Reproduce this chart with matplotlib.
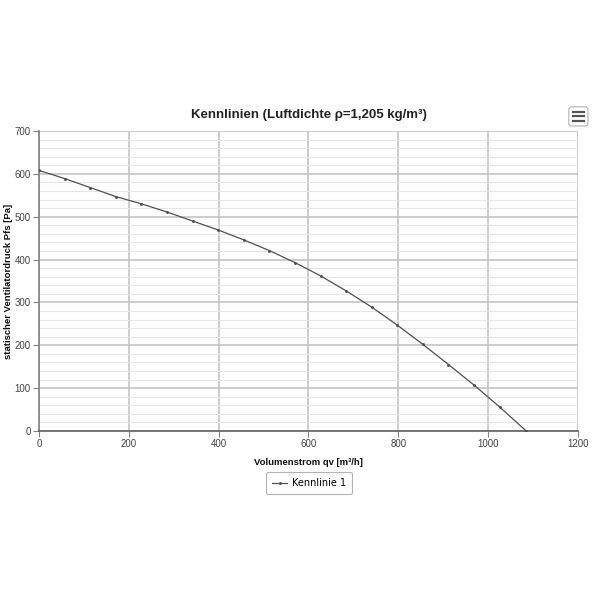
import numpy as np
import matplotlib.pyplot as plt
from matplotlib.patches import FancyBboxPatch

# Kennlinie
volumenstrom = [0, 57, 114, 171, 228, 285, 342, 399, 456, 513, 570, 627,
                684, 741, 798, 855, 912, 969, 1026, 1085]
druck = [608, 589, 568, 547, 530, 511, 490, 469, 446, 421, 393, 362,
         327, 289, 247, 202, 155, 107, 56, 0]
x_ticks = [0, 200, 400, 600, 800, 1000, 1200]
y_ticks = [0, 100, 200, 300, 400, 500, 600, 700]

fig = plt.figure(figsize=(6, 6), dpi=100)
ax = fig.add_axes([0.065, 0.2817, 0.898, 0.5])

ax.plot(volumenstrom, druck, color='#505050', lw=0.9, marker='o', ms=1.1,
        label='Kennlinie 1', zorder=3)

ax.set_xlim(0, 1200)
ax.set_ylim(0, 700)
ax.set_xticks(x_ticks)
ax.set_yticks(y_ticks)
ax.set_yticks(np.arange(0, 701, 20), minor=True)
ax.grid(which='major', color='#c4c4c4', lw=1.2)
ax.grid(which='minor', axis='y', color='#e6e6e6', lw=0.8)
ax.set_axisbelow(True)

for s in ['top', 'right']:
    ax.spines[s].set_visible(False)
ax.spines['left'].set_color('#808080')
ax.spines['bottom'].set_color('#606060')
ax.spines['left'].set_linewidth(1.2)
ax.spines['bottom'].set_linewidth(1.2)
ax.tick_params(which='major', length=4, color='#808080', labelsize=7,
               labelcolor='#444444', pad=2)
ax.tick_params(which='minor', length=0)
for t in ax.get_xticklabels() + ax.get_yticklabels():
    t.set_family('Liberation Sans')

lab_font = dict(family='Liberation Sans', fontsize=6.8, fontweight='bold',
                color='#111111')
ax.set_xlabel('Volumenstrom qv [m³/h]', labelpad=6, **lab_font)
fig.text(0.014, 0.5317, 'statischer Ventilatordruck Pfs [Pa]', rotation=90,
         ha='center', va='center', **lab_font)
fig.text(0.515, 0.808, 'Kennlinien (Luftdichte ρ=1,205 kg/m³)', ha='center',
         va='center', family='Liberation Sans', fontsize=9.5,
         fontweight='bold', color='#222222')

leg = fig.legend(loc='center', bbox_to_anchor=(0.515, 0.195), fontsize=7,
                 frameon=True, fancybox=True, handlelength=1.5,
                 handletextpad=0.5, borderpad=0.6)
leg.get_frame().set_edgecolor('#a0a0a0')
leg.get_frame().set_linewidth(0.8)

# menu button
btn = FancyBboxPatch((0.948, 0.79), 0.032, 0.032,
                     boxstyle='round,pad=0,rounding_size=0.005',
                     transform=fig.transFigure, fc='white', ec='#b0b0b0', lw=0.8)
fig.patches.append(btn)
for yy in [0.798, 0.806, 0.814]:
    fig.add_artist(plt.Line2D([0.955, 0.973], [yy, yy], transform=fig.transFigure,
                              color='#555555', lw=1.6))

fig.savefig('out.png', dpi=100)
